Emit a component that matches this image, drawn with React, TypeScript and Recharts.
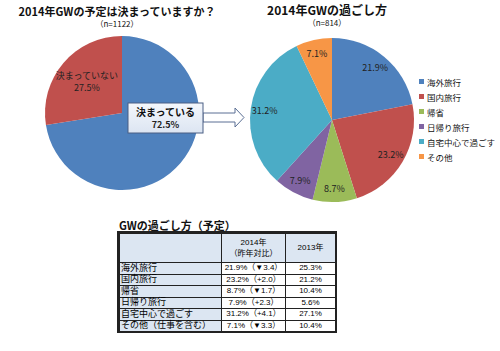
import React from "react"
import { PieChart, Pie, Cell } from "recharts"

// ---- data ----
const planNames = ["決まっている", "決まっていない"]
const planValues = [72.5, 27.5]
const planColors = ["#4F81BD", "#C0504D"]

const styleNames = ["海外旅行", "国内旅行", "帰省", "日帰り旅行", "自宅中心で過ごす", "その他"]
const styleValues = [21.9, 23.2, 8.7, 7.9, 31.2, 7.1]
const styleColors = ["#4F81BD", "#C0504D", "#9BBB59", "#8064A2", "#4BACC6", "#F79646"]

const tableRows = ["海外旅行", "国内旅行", "帰省", "日帰り旅行", "自宅中心で過ごす", "その他（仕事を含む）"]
const table2014 = ["21.9%（▼3.4）", "23.2%（+2.0）", "8.7%（▼1.7）", "7.9%（+2.3）", "31.2%（+4.1）", "7.1%（▼3.3）"]
const table2013 = ["25.3%", "21.2%", "10.4%", "5.6%", "27.1%", "10.4%"]

const planData = planNames.map((name, i) => ({ name, value: planValues[i] }))
const styleData = styleNames.map((name, i) => ({ name, value: styleValues[i] }))

const FONT = "'Noto Sans CJK JP', 'Noto Sans', sans-serif"
// latin metrics first so the table rows stay compact, CJK glyphs fall back
const TABLE_FONT = "'Liberation Sans', 'Noto Sans CJK JP', sans-serif"
const RAD = Math.PI / 180

function PlanLabel(props: any) {
  const { cx, cy, outerRadius, midAngle, index, value } = props
  if (index === 1) {
    const r = outerRadius * 0.6
    const x = cx + r * Math.cos(-midAngle * RAD)
    const y = cy + r * Math.sin(-midAngle * RAD)
    return (
      <text x={x} y={y} textAnchor="middle" fontSize={9} fill="#222" fontFamily={FONT}>
        <tspan x={x} dy={-4}>決まっていない</tspan>
        <tspan x={x} dy={12}>{value.toFixed(1)}%</tspan>
      </text>
    )
  }
  // callout box with arrow for the "decided" slice
  const bx = cx + 6
  const by = cy - 10
  const bw = 75
  const bh = 30
  const ax = bx + bw
  const arrow = `M${ax},${cy} L${ax + 32},${cy} L${ax + 32},${cy - 5} L${ax + 41},${cy + 4.5} L${ax + 32},${cy + 14} L${ax + 32},${cy + 9} L${ax},${cy + 9} Z`
  return (
    <g>
      <defs>
        <linearGradient id="boxGrad" x1="0" y1="0" x2="0" y2="1">
          <stop offset="0%" stopColor="#F4F7FC" />
          <stop offset="100%" stopColor="#DCE5F2" />
        </linearGradient>
      </defs>
      <path d={arrow} fill="#FFFFFF" stroke="#5A6F94" strokeWidth={1} />
      <rect x={bx} y={by} width={bw} height={bh} fill="url(#boxGrad)" stroke="#4A5F84" strokeWidth={1} />
      <text x={bx + bw / 2} y={by + 13} textAnchor="middle" fontSize={10} fontWeight="bold" fill="#111" fontFamily={FONT}>
        {planNames[0]}
      </text>
      <text x={bx + bw / 2} y={by + 25} textAnchor="middle" fontSize={9} fontWeight="bold" fill="#222" fontFamily={FONT}>
        {value.toFixed(1)}%
      </text>
    </g>
  )
}

function StyleLabel(props: any) {
  const { cx, cy, outerRadius, midAngle, value } = props
  const r = outerRadius * 0.83
  const x = cx + r * Math.cos(-midAngle * RAD)
  const y = cy + r * Math.sin(-midAngle * RAD)
  return (
    <text x={x} y={y} textAnchor="middle" dominantBaseline="central" fontSize={9} fill="#222" fontFamily={FONT}>
      {value.toFixed(1)}%
    </text>
  )
}

const cell: React.CSSProperties = {
  borderRight: "1px solid #222",
  borderBottom: "1px solid #222",
  display: "flex",
  alignItems: "center",
  whiteSpace: "nowrap",
  lineHeight: 1,
}

export default function App() {
  return (
    <div style={{ position: "absolute", left: 0, top: 0, width: 500, height: 351, background: "#fff", fontFamily: FONT, color: "#111" }}>
      <div style={{ position: "absolute", left: 0, width: 234, top: 3, textAlign: "center", fontSize: 11, fontWeight: "bold" }}>
        2014年GWの予定は決まっていますか？
      </div>
      <div style={{ position: "absolute", left: 0, width: 234, top: 18, textAlign: "center", fontSize: 8 }}>
        （n=1122）
      </div>
      <div style={{ position: "absolute", left: 250, width: 154, top: 1, textAlign: "center", fontSize: 12, fontWeight: "bold" }}>
        2014年GWの過ごし方
      </div>
      <div style={{ position: "absolute", left: 250, width: 154, top: 17, textAlign: "center", fontSize: 8 }}>
        （n=814）
      </div>

      <div style={{ position: "absolute", left: 0, top: 0 }}>
        <PieChart width={500} height={210}>
          <Pie
            data={planData}
            dataKey="value"
            cx={117}
            cy={108}
            outerRadius={77}
            startAngle={90}
            endAngle={-270}
            stroke="none"
            label={PlanLabel}
            labelLine={false}
            isAnimationActive={false}
          >
            {planData.map((d, i) => (
              <Cell key={d.name} fill={planColors[i]} />
            ))}
          </Pie>
          <Pie
            data={styleData}
            dataKey="value"
            cx={327}
            cy={115}
            outerRadius={82}
            startAngle={90}
            endAngle={-270}
            stroke="none"
            label={StyleLabel}
            labelLine={false}
            isAnimationActive={false}
          >
            {styleData.map((d, i) => (
              <Cell key={d.name} fill={styleColors[i]} />
            ))}
          </Pie>
        </PieChart>
      </div>

      <div style={{ position: "absolute", left: 419, top: 74 }}>
        {styleNames.map((n, i) => (
          <div key={n} style={{ display: "flex", alignItems: "center", height: 15, fontSize: 8.5, whiteSpace: "nowrap" }}>
            <span style={{ width: 5, height: 5, background: styleColors[i], marginRight: 3, display: "inline-block" }} />
            {n}
          </div>
        ))}
      </div>

      <div style={{ position: "absolute", left: 119, top: 217, fontSize: 11, fontWeight: "bold" }}>
        GWの過ごし方（予定）
      </div>
      <div
        style={{
          position: "absolute",
          left: 118,
          top: 232,
          display: "grid",
          gridTemplateColumns: "102px 64px 50px",
          gridTemplateRows: "29px repeat(6, 11.5px)",
          borderTop: "2px solid #222",
          borderLeft: "2px solid #222",
          outline: "1px solid #222",
          fontSize: 8,
          fontFamily: TABLE_FONT,
          color: "#000",
        }}
      >
        <div style={{ ...cell, background: "#DCE6F2" }} />
        <div style={{ ...cell, background: "#DCE6F2", flexDirection: "column", justifyContent: "center", gap: 3 }}>
          <span>2014年</span>
          <span>（昨年対比）</span>
        </div>
        <div style={{ ...cell, background: "#DCE6F2", justifyContent: "center" }}>2013年</div>
        {tableRows.map((r, i) => (
          <React.Fragment key={r}>
            <div style={{ ...cell, background: "#DCE6F2", fontSize: 9, paddingLeft: 1 }}>{r}</div>
            <div style={{ ...cell, justifyContent: "center" }}>{table2014[i]}</div>
            <div style={{ ...cell, justifyContent: "center" }}>{table2013[i]}</div>
          </React.Fragment>
        ))}
      </div>
    </div>
  )
}
